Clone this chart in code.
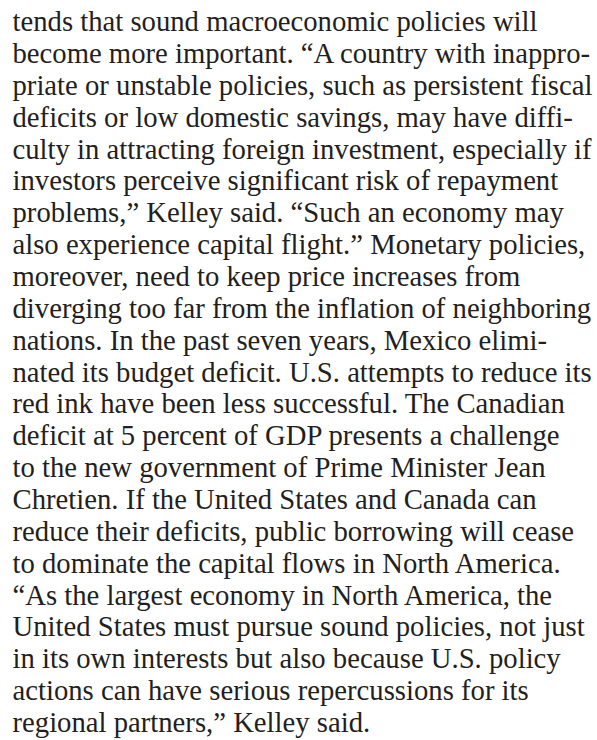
import React from "react";

const lines: string[] = [
  "tends that sound macroeconomic policies will",
  "become more important. \u201CA country with inappro-",
  "priate or unstable policies, such as persistent fiscal",
  "deficits or low domestic savings, may have diffi-",
  "culty in attracting foreign investment, especially if",
  "investors perceive significant risk of repayment",
  "problems,\u201D Kelley said. \u201CSuch an economy may",
  "also experience capital flight.\u201D Monetary policies,",
  "moreover, need to keep price increases from",
  "diverging too far from the inflation of neighboring",
  "nations. In the past seven years, Mexico elimi-",
  "nated its budget deficit. U.S. attempts to reduce its",
  "red ink have been less successful. The Canadian",
  "deficit at 5 percent of GDP presents a challenge",
  "to the new government of Prime Minister Jean",
  "Chretien. If the United States and Canada can",
  "reduce their deficits, public borrowing will cease",
  "to dominate the capital flows in North America.",
  "\u201CAs the largest economy in North America, the",
  "United States must pursue sound policies, not just",
  "in its own interests but also because U.S. policy",
  "actions can have serious repercussions for its",
  "regional partners,\u201D Kelley said.",
];

const FONT_SIZE = 28.7;
const LINE_H = 31.86;

export default function App() {
  return (
    <div
      style={{
        position: "fixed",
        left: 0,
        top: 0,
        width: 597,
        height: 740,
        background: "#ffffff",
        overflow: "hidden",
      }}
    >
      <div
        style={{
          position: "absolute",
          left: 12.5,
          top: 6.1,
          fontFamily: "'Liberation Serif', 'Times New Roman', serif",
          fontSize: FONT_SIZE,
          lineHeight: `${LINE_H}px`,
          color: "#231f20",
          whiteSpace: "pre",
        }}
      >
        {lines.map((t, i) => (
          <div key={i} style={{ height: LINE_H }}>
            {t}
          </div>
        ))}
      </div>
    </div>
  );
}
